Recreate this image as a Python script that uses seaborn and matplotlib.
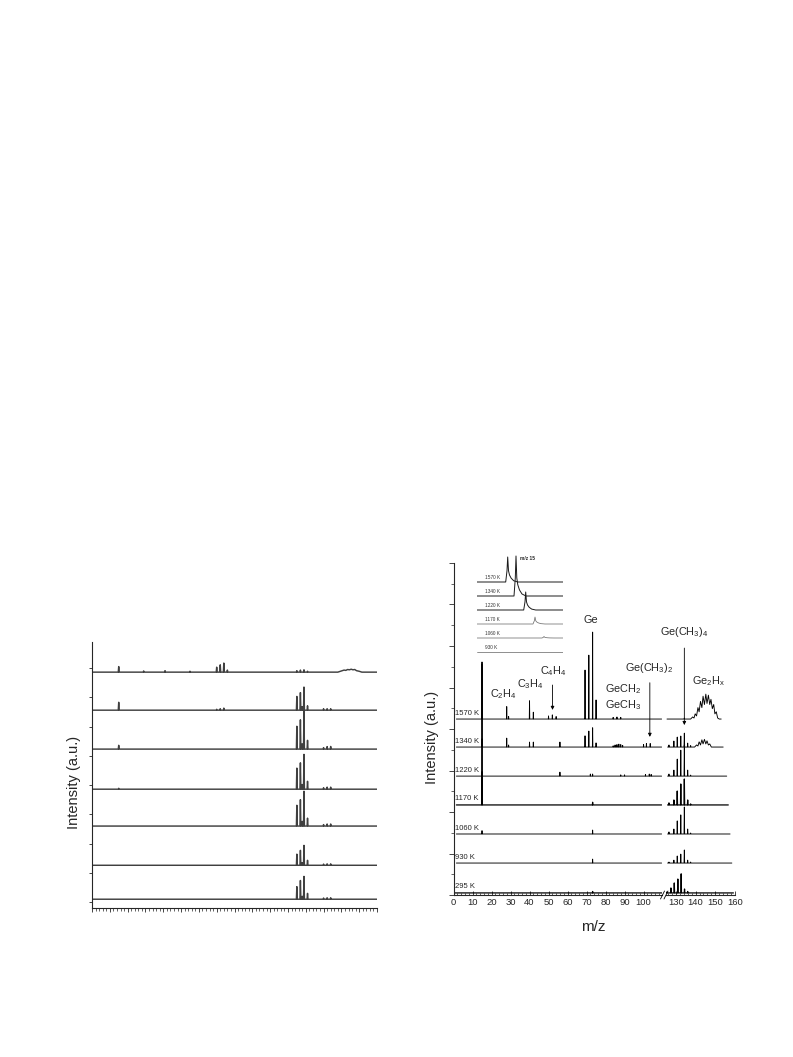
import numpy as np
import pandas as pd
import matplotlib
matplotlib.use("Agg")
import matplotlib.pyplot as plt
import seaborn as sns
from matplotlib.lines import Line2D
from matplotlib.ticker import MultipleLocator, FixedLocator, NullFormatter

# ------------------------------------------------------------------ data
TEMPS = ["1570 K", "1340 K", "1220 K", "1170 K", "1060 K", "930 K", "295 K"]
R_OFFSETS = [8.48, 7.13, 5.73, 4.34, 2.94, 1.54, 0.10]

# right panel, low-mass segment (m/z 0-110): peak m/z and heights
R_LOW_MZ = {
    "1570 K": [15, 28, 29, 40, 42, 50, 52, 54, 69.2, 71.2, 73.2, 75.0, 84, 86, 88],
    "1340 K": [15, 28, 29, 40, 42, 56, 69.2, 71.2, 73.2, 75.0, 84, 85, 86, 87, 88, 89, 100, 101.5, 103.5],
    "1220 K": [15, 56, 72, 73.2, 88, 90, 101, 103, 104],
    "1170 K": [15, 73.2],
    "1060 K": [15, 73.2],
    "930 K": [73.2],
    "295 K": [73.2],
}
R_LOW_H = {
    "1570 K": [2.75, 0.60, 0.12, 0.88, 0.33, 0.15, 0.20, 0.12, 2.36, 3.08, 4.19, 0.92, 0.08, 0.10, 0.08],
    "1340 K": [4.00, 0.43, 0.10, 0.24, 0.24, 0.24, 0.54, 0.77, 0.93, 0.20, 0.06, 0.10, 0.12, 0.14, 0.12, 0.08, 0.12, 0.17, 0.17],
    "1220 K": [1.80, 0.19, 0.10, 0.10, 0.06, 0.06, 0.08, 0.10, 0.08],
    "1170 K": [1.60, 0.13],
    "1060 K": [0.16, 0.19],
    "930 K": [0.19],
    "295 K": [0.07],
}
R_LOW_START = [1.5, 1.5, 1.5, 1.5, 1.5, 1.5, 0.5]
R_LOW_END = [109.5, 109.5, 109.5, 109.5, 109.5, 109.5, 109.7]

# right panel, high-mass segment (m/z 125-160)
R_HIGH_MZ = {
    "1570 K": [134.3],
    "1340 K": [126.5, 129.0, 130.7, 132.5, 134.3, 136.0, 137.5],
    "1220 K": [126.5, 129.0, 130.7, 132.5, 134.3, 136.0, 137.5],
    "1170 K": [126.5, 129.0, 130.7, 132.5, 134.3, 136.0, 137.5],
    "1060 K": [126.5, 129.0, 130.7, 132.5, 134.3, 136.0, 137.5],
    "930 K": [126.5, 129.0, 130.7, 132.5, 134.3, 136.0, 137.5],
    "295 K": [125.5, 127.5, 129.2, 131.0, 132.7, 134.4, 136.0],
}
R_HIGH_H = {
    "1570 K": [0.05],
    "1340 K": [0.10, 0.29, 0.48, 0.53, 0.67, 0.19, 0.07],
    "1220 K": [0.10, 0.29, 0.82, 1.25, 1.49, 0.29, 0.05],
    "1170 K": [0.10, 0.24, 0.67, 1.01, 1.25, 0.24, 0.05],
    "1060 K": [0.10, 0.24, 0.63, 0.92, 1.30, 0.24, 0.05],
    "930 K": [0.05, 0.14, 0.34, 0.43, 0.63, 0.14, 0.05],
    "295 K": [0.05, 0.24, 0.48, 0.67, 0.92, 0.19, 0.07],
}
R_HIGH_START = [125.5, 125.8, 125.8, 125.8, 125.8, 125.8, 125.0]
R_HIGH_END = [153.0, 154.0, 155.8, 156.6, 157.5, 158.4, 159.2]

# Ge2Hx envelope (1570 K) and its weak trace at 1340 K
GE2HX_1570_MZ = [137.5, 138.5, 139.2, 139.8, 140.5, 141.2, 141.8, 142.5, 143.2, 143.8, 144.5,
                 145.2, 145.8, 146.5, 147.2, 147.8, 148.5, 149.2, 149.8, 150.5, 151.2, 152.0]
GE2HX_1570_H = [0, 0.10, 0.05, 0.25, 0.15, 0.55, 0.35, 0.85, 0.55, 1.10, 0.70,
                1.20, 0.75, 1.15, 0.70, 0.95, 0.50, 0.70, 0.25, 0.35, 0.05, 0]
GE2HX_1340_MZ = [139.5, 140.5, 141.2, 141.8, 142.5, 143.2, 143.8, 144.5, 145.2, 145.8, 146.5, 147.2, 148.0]
GE2HX_1340_H = [0, 0.10, 0.05, 0.25, 0.10, 0.35, 0.15, 0.37, 0.15, 0.30, 0.10, 0.15, 0]

# left panel (m/z 0-160), seven stacked spectra
L_OFFSETS = [7.86, 6.56, 5.23, 3.86, 2.60, 1.26, 0.10]
L_MZ = [
    [15, 29, 41, 55, 70, 72, 74, 76, 115, 117, 119, 121],
    [15, 70, 72, 74, 115, 117, 118, 119, 121, 130, 132, 134],
    [15, 115, 117, 118, 119, 121, 130, 132, 134],
    [15, 115, 117, 118, 119, 121, 130, 132, 134],
    [115, 117, 118, 119, 121, 130, 132, 134],
    [115, 117, 118, 119, 121, 130, 132, 134],
    [115, 117, 118, 119, 121, 130, 132, 134],
]
L_H = [
    [0.19, 0.04, 0.05, 0.03, 0.17, 0.25, 0.31, 0.07, 0.05, 0.07, 0.08, 0.03],
    [0.27, 0.03, 0.05, 0.07, 0.47, 0.60, 0.12, 0.79, 0.15, 0.05, 0.05, 0.05],
    [0.13, 0.78, 1.00, 0.18, 1.31, 0.30, 0.05, 0.085, 0.09],
    [0.03, 0.72, 0.90, 0.16, 1.19, 0.27, 0.05, 0.07, 0.07],
    [0.71, 0.90, 0.16, 1.19, 0.27, 0.05, 0.07, 0.07],
    [0.38, 0.51, 0.09, 0.68, 0.17, 0.04, 0.05, 0.05],
    [0.43, 0.64, 0.10, 0.78, 0.20, 0.04, 0.05, 0.05],
]
L_HUMP_MZ = [138, 139.5, 140.5, 141.5, 142.5, 143.5, 144.5, 145.5, 146.5, 147.5, 148.5, 150, 151.5]
L_HUMP_H = [0, 0.03, 0.05, 0.07, 0.06, 0.09, 0.08, 0.10, 0.08, 0.09, 0.05, 0.03, 0]

# inset: m/z 15 signal vs temperature
INSET_TEMPS = ["1570 K", "1340 K", "1220 K", "1170 K", "1060 K", "930 K"]
INSET_BASE = [73, 59, 45, 31, 17, 3]
INSET_PEAK_X = [30.7, 39.0, 48.7, 58.0, 67.0, 76.0]
INSET_PEAK_H = [25, 40, 18, 7, 1.5, 0]
INSET_SHAPE_DX = [-2.0, -0.7, 0, 0.8, 1.8, 3.5, 6.0, 10.0]
INSET_SHAPE_F = [0, 0.45, 1, 0.45, 0.28, 0.15, 0.05, 0]

# annotations (label text, m/z, height)
LOW_LABELS = [("C$_2$H$_4$", 26.2, 9.69, "center"),
              ("C$_3$H$_4$", 40.4, 10.17, "center"),
              ("C$_4$H$_4$", 52.7, 10.80, "center"),
              ("Ge", 72.5, 13.25, "center"),
              ("GeCH$_2$", 79.8, 9.93, "left"),
              ("GeCH$_3$", 79.8, 9.16, "left"),
              ("Ge(CH$_3$)$_2$", 103.0, 10.94, "center")]
HIGH_LABELS = [("Ge(CH$_3$)$_4$", 134.1, 12.67, "center"),
               ("Ge$_2$H$_x$", 146.5, 10.31, "center")]
LOW_ARROWS = [(52.1, 10.12, 8.92), (103.3, 10.23, 7.62)]
HIGH_ARROWS = [(134.3, 11.90, 8.19)]

# ------------------------------------------------------------------ style
sns.set_style("ticks")
plt.rcParams["font.family"] = ["Liberation Sans", "DejaVu Sans"]
plt.rcParams["mathtext.fontset"] = "custom"
plt.rcParams["mathtext.rm"] = "Liberation Sans"
plt.rcParams["mathtext.it"] = "Liberation Sans:italic"
plt.rcParams["mathtext.bf"] = "Liberation Sans:bold"
plt.rcParams["mathtext.default"] = "regular"
plt.rcParams["axes.linewidth"] = 0.8

W, H = 793, 1057
fig = plt.figure(figsize=(W / 100, H / 100), dpi=100)


def fx(px):
    return px / W


def fy(py):
    return 1 - py / H


def trace_points(mz, h, start, end, base, w, hump=None):
    parts = [[(m - w, 0.0), (m, hh), (m + w, 0.0)] for m, hh in zip(mz, h)]
    if hump is not None:
        parts.append(list(zip(hump[0], hump[1])))
    parts.sort(key=lambda p: p[0][0])
    xs, ys = [start], [base]
    for p in parts:
        for x, y in p:
            xs.append(x)
            ys.append(base + y)
    xs.append(end)
    ys.append(base)
    return xs, ys


def draw(ax, xs, ys, name, color="black", lw=0.8):
    df = pd.DataFrame({"mz": xs, "y": ys, "trace": name, "i": range(len(xs))})
    sns.lineplot(data=df, x="mz", y="y", units="trace", estimator=None, sort=False,
                 color=color, lw=lw, ax=ax, legend=False)
    ax.set_xlabel("")
    ax.set_ylabel("")


# ------------------------------------------------------------------ left panel
axL = fig.add_axes([fx(92), fy(908), fx(377) - fx(92), fy(642) - fy(908)])
axL.patch.set_visible(False)
for k in range(len(L_OFFSETS)):
    hump = (L_HUMP_MZ, L_HUMP_H) if k == 0 else None
    xs, ys = trace_points(L_MZ[k], L_H[k], 0, 160, L_OFFSETS[k], 0.25, hump)
    draw(axL, xs, ys, f"L{k}", color="#404040", lw=1.05)
axL.set_xlim(0, 160)
axL.set_ylim(-0.2, 8.89)
axL.xaxis.set_major_locator(MultipleLocator(10))
axL.xaxis.set_minor_locator(MultipleLocator(2))
axL.yaxis.set_major_locator(MultipleLocator(1))
axL.set_xticklabels([])
axL.set_yticklabels([])
axL.tick_params(axis="x", which="major", direction="out", length=3.2, width=0.6)
axL.tick_params(axis="x", which="minor", direction="out", length=1.8, width=0.5)
axL.tick_params(axis="y", which="major", direction="out", length=2.5, width=0.6)
sns.despine(ax=axL)
fig.text(fx(74), fy(782), "Intensity (a.u.)", rotation=90, ha="center", va="center", fontsize=10.5)

# ------------------------------------------------------------------ right panel
ax1 = fig.add_axes([fx(453.5), fy(895), fx(662) - fx(453.5), fy(563) - fy(895)])
ax2 = fig.add_axes([fx(666), fy(895), fx(735) - fx(666), fy(563) - fy(895)])
ax1.patch.set_visible(False)
ax2.patch.set_visible(False)

for k, t in enumerate(TEMPS):
    lw = 0.9 if t in ("1170 K", "295 K") else 0.65
    xs, ys = trace_points(R_LOW_MZ[t], R_LOW_H[t], R_LOW_START[k], R_LOW_END[k],
                          R_OFFSETS[k], 0.12)
    draw(ax1, xs, ys, t + "a", lw=lw)
    hump = None
    if t == "1570 K":
        hump = (GE2HX_1570_MZ, GE2HX_1570_H)
    elif t == "1340 K":
        hump = (GE2HX_1340_MZ, GE2HX_1340_H)
    xs, ys = trace_points(R_HIGH_MZ[t], R_HIGH_H[t], R_HIGH_START[k], R_HIGH_END[k],
                          R_OFFSETS[k], 0.15, hump)
    draw(ax2, xs, ys, t + "b", lw=lw)
    ax1.text(0.6, R_OFFSETS[k] + 0.12, t, fontsize=5.5, ha="left", va="bottom")

for ax in (ax1, ax2):
    ax.set_ylim(0, 16)
    ax.tick_params(axis="x", which="major", direction="in", length=3, width=0.6,
                   labelsize=6.8, pad=2)
    ax.tick_params(axis="x", which="minor", direction="in", length=1.8, width=0.5)
    sns.despine(ax=ax)

ax1.set_xlim(0, 109.7)
ax1.xaxis.set_major_locator(FixedLocator(np.arange(0, 101, 10)))
ax1.xaxis.set_minor_locator(MultipleLocator(2))
ax1.yaxis.set_major_locator(MultipleLocator(2))
ax1.yaxis.set_minor_locator(MultipleLocator(1))
ax1.set_yticklabels([])
ax1.yaxis.set_minor_formatter(NullFormatter())
ax1.tick_params(axis="y", which="major", direction="out", length=3.5, width=0.6)
ax1.tick_params(axis="y", which="minor", direction="out", length=2, width=0.5)

ax2.set_xlim(125, 160)
ax2.xaxis.set_major_locator(FixedLocator([130, 140, 150, 160]))
ax2.xaxis.set_minor_locator(MultipleLocator(2))
ax2.spines["left"].set_visible(False)
ax2.set_yticks([])

# axis break marks
for dx in (0, 3.5):
    fig.add_artist(Line2D([fx(660.5 + dx), fx(664.5 + dx)], [fy(899), fy(891)],
                          color="black", lw=0.6))

for txt, x, y, ha in LOW_LABELS:
    ax1.text(x, y, txt, fontsize=7.8, ha=ha, va="center")
for txt, x, y, ha in HIGH_LABELS:
    ax2.text(x, y, txt, fontsize=7.8, ha=ha, va="center")
arrow_kw = dict(arrowstyle="-|>", lw=0.6, color="black", mutation_scale=5,
                shrinkA=0, shrinkB=0)
for x, y0, y1 in LOW_ARROWS:
    ax1.annotate("", xy=(x, y1), xytext=(x, y0), arrowprops=arrow_kw)
for x, y0, y1 in HIGH_ARROWS:
    ax2.annotate("", xy=(x, y1), xytext=(x, y0), arrowprops=arrow_kw)

fig.text(fx(432), fy(737), "Intensity (a.u.)", rotation=90, ha="center", va="center", fontsize=10.5)
fig.text(fx(593), fy(927), "m/z", ha="center", va="center", fontsize=11)

# ------------------------------------------------------------------ inset
axI = fig.add_axes([fx(477), fy(655), fx(563) - fx(477), fy(550) - fy(655)])
for k, t in enumerate(INSET_TEMPS):
    xs = [0.0] + [INSET_PEAK_X[k] + d for d in INSET_SHAPE_DX] + [86.0]
    ys = [INSET_BASE[k]] + [INSET_BASE[k] + INSET_PEAK_H[k] * f for f in INSET_SHAPE_F] + [INSET_BASE[k]]
    col = "#1a1a1a" if k < 3 else "#707070"
    draw(axI, xs, ys, t, color=col, lw=0.7 if k < 3 else 0.55)
    axI.text(8, INSET_BASE[k] + 1.6, t, fontsize=3.4, ha="left", va="bottom", color="#333333")
axI.text(43, 96, "m/z 15", fontsize=3.4, fontweight="bold", ha="left", va="center")
axI.set_xlim(0, 86)
axI.set_ylim(0, 105)
axI.axis("off")

fig.savefig("out.png", dpi=100)
